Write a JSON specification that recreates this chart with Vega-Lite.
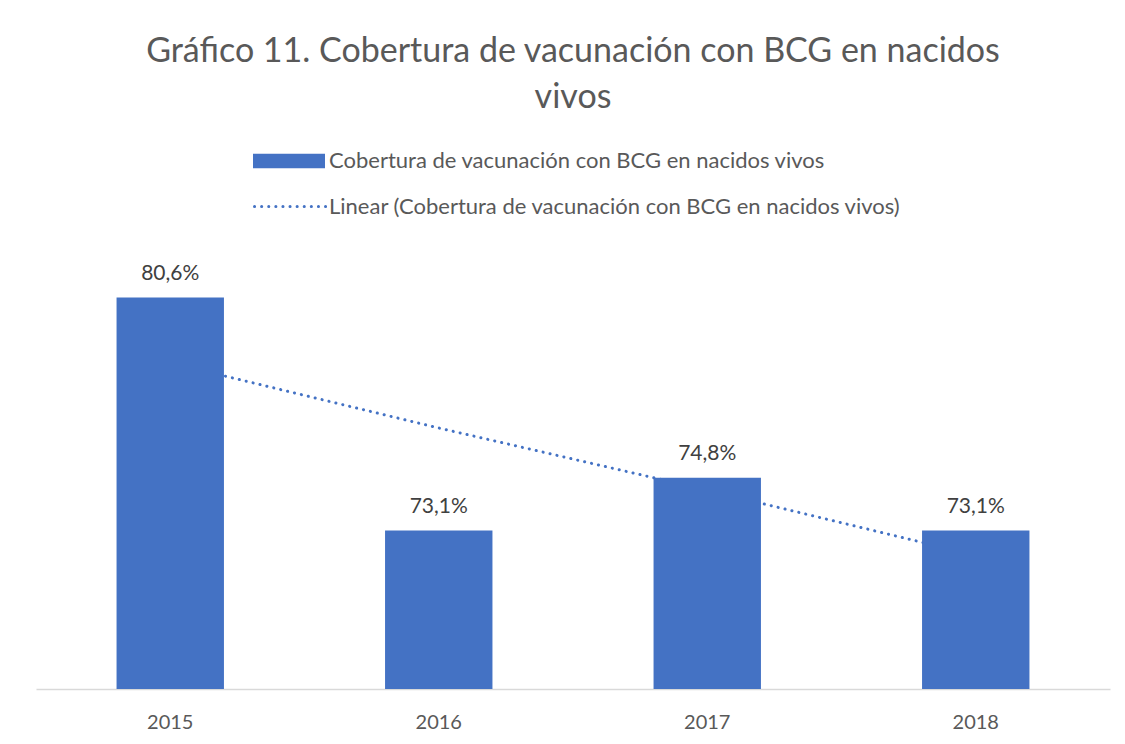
{
  "$schema": "https://vega.github.io/schema/vega-lite/v6.json",
  "width": 1074,
  "height": 435,
  "autosize": {"type": "none"},
  "padding": {"left": 36, "top": 254, "right": 15, "bottom": 55},
  "background": "white",
  "config": {
    "view": {"stroke": null},
    "font": "Lato",
    "locale": {"number": {"decimal": ",", "thousands": ".", "grouping": [3], "currency": ["", " €"]}}
  },
  "title": {
    "text": ["Gráfico 11. Cobertura de vacunación con BCG en nacidos", "vivos"],
    "font": "Lato",
    "fontSize": 34,
    "fontWeight": "normal",
    "color": "#595959",
    "lineHeight": 46,
    "anchor": "middle",
    "frame": "group",
    "offset": 10
  },
  "data": {
    "values": [
      {"year": "2015", "value": 0.806, "trend": 0.785, "serie": "Cobertura de vacunación con BCG en nacidos vivos", "tserie": "Linear (Cobertura de vacunación con BCG en nacidos vivos)"},
      {"year": "2016", "value": 0.731, "trend": 0.764, "serie": "Cobertura de vacunación con BCG en nacidos vivos", "tserie": "Linear (Cobertura de vacunación con BCG en nacidos vivos)"},
      {"year": "2017", "value": 0.748, "trend": 0.744, "serie": "Cobertura de vacunación con BCG en nacidos vivos", "tserie": "Linear (Cobertura de vacunación con BCG en nacidos vivos)"},
      {"year": "2018", "value": 0.731, "trend": 0.723, "serie": "Cobertura de vacunación con BCG en nacidos vivos", "tserie": "Linear (Cobertura de vacunación con BCG en nacidos vivos)"}
    ]
  },
  "encoding": {
    "x": {
      "field": "year", "type": "nominal",
      "scale": {"paddingInner": 0.6, "paddingOuter": 0.3},
      "axis": {
        "title": null, "labelAngle": 0, "ticks": false, "grid": false,
        "domainColor": "#d9d9d9", "domainWidth": 1.5,
        "labelFont": "Lato", "labelFontSize": 20, "labelColor": "#595959",
        "labelBaseline": "alphabetic", "labelPadding": 39
      }
    }
  },
  "layer": [
    {
      "mark": {"type": "line", "strokeWidth": 3, "strokeCap": "round", "color": "#4472C4"},
      "encoding": {
        "y": {"field": "trend", "type": "quantitative", "scale": {"domain": [0.68, 0.82], "zero": false, "nice": false}, "axis": null},
        "strokeDash": {
          "field": "tserie", "type": "nominal",
          "scale": {"range": [[0.1, 7]]},
          "legend": {
            "title": null, "orient": "none", "legendX": 217, "legendY": -85,
            "symbolType": "stroke", "symbolSize": 5184, "symbolStrokeWidth": 3, "symbolStrokeColor": "#4472C4",
            "labelFont": "Lato", "labelFontSize": 22, "labelColor": "#595959", "labelOffset": 1, "labelLimit": 800,
            "encode": {"symbols": {"update": {"strokeCap": {"value": "round"}, "strokeDash": {"value": [0.1, 7]}}}}
          }
        }
      }
    },
    {
      "mark": {"type": "bar", "clip": true},
      "encoding": {
        "y": {"field": "value", "type": "quantitative", "scale": {"domain": [0.68, 0.82], "zero": false, "nice": false}, "axis": null},
        "color": {
          "field": "serie", "type": "nominal",
          "scale": {"range": ["#4472C4"]},
          "legend": {
            "title": null, "orient": "none", "legendX": 217, "legendY": -129,
            "symbolType": "M-1,-0.2H1V0.2H-1Z", "symbolSize": 5184, "symbolStrokeWidth": 0, "symbolOpacity": 1,
            "labelFont": "Lato", "labelFontSize": 22, "labelColor": "#595959", "labelOffset": 4, "labelLimit": 800
          }
        }
      }
    },
    {
      "mark": {"type": "text", "baseline": "alphabetic", "dy": -18, "fontSize": 21, "font": "Lato", "color": "#404040"},
      "encoding": {
        "y": {"field": "value", "type": "quantitative"},
        "text": {"field": "value", "type": "quantitative", "format": ".1%"}
      }
    }
  ]
}
